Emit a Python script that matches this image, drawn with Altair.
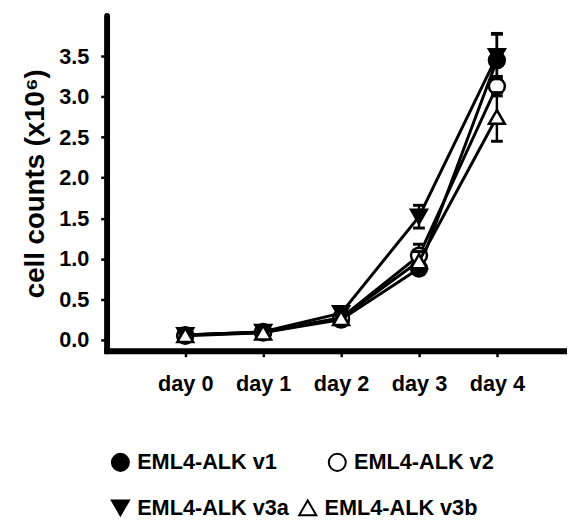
import altair as alt
import pandas as pd

days = [0, 1, 2, 3, 4]
day_labels = ["day 0", "day 1", "day 2", "day 3", "day 4"]
series_names = ["EML4-ALK v1", "EML4-ALK v2", "EML4-ALK v3a", "EML4-ALK v3b"]
v1_mean = [0.05, 0.09, 0.25, 0.88, 3.45]
v1_err = [0.02, 0.02, 0.03, 0.07, 0.32]
v2_mean = [0.06, 0.10, 0.27, 1.04, 3.13]
v2_err = [0.02, 0.02, 0.03, 0.14, 0.12]
v3a_mean = [0.06, 0.10, 0.33, 1.52, 3.50]
v3a_err = [0.02, 0.02, 0.04, 0.14, 0.28]
v3b_mean = [0.06, 0.09, 0.27, 0.97, 2.75]
v3b_err = [0.02, 0.02, 0.03, 0.12, 0.30]

means = [v1_mean, v2_mean, v3a_mean, v3b_mean]
errs = [v1_err, v2_err, v3a_err, v3b_err]
rows = []
for name, m, e in zip(series_names, means, errs):
    for d, lab, mv, ev in zip(days, day_labels, m, e):
        rows.append({"day": d, "label": lab, "series": name, "mean": mv,
                     "lo": mv - ev, "hi": mv + ev})
df = pd.DataFrame(rows)

FONT = "Liberation Sans"
xscale = alt.Scale(domain=[-1.01, 4.9], nice=False, zero=False)
yscale = alt.Scale(domain=[-0.134, 4.0], nice=False, zero=False)
xaxis = alt.Axis(values=days, labelExpr="'day ' + datum.value", title=None,
                 labelPadding=17, domainCap="square")
yaxis = alt.Axis(values=[0, 0.5, 1.0, 1.5, 2.0, 2.5, 3.0, 3.5], format=".1f",
                 title="cell counts (x10⁶)", titlePadding=9, labelPadding=12,
                 domainCap="round")


def group(names, shapes, fills, legend_y, col_pad):
    sub = df[df.series.isin(names)]
    base = alt.Chart(sub).encode(x=alt.X("day:Q", scale=xscale, axis=xaxis))
    line = base.mark_line(color="black", strokeWidth=3).encode(
        y=alt.Y("mean:Q", scale=yscale, axis=yaxis), detail="series:N")
    rule = base.mark_rule(color="black", strokeWidth=2.5).encode(
        y=alt.Y("lo:Q", scale=yscale, axis=yaxis), y2="hi:Q")
    cap_lo = base.mark_tick(color="black", orient="horizontal", size=12,
                            thickness=3, opacity=1).encode(
        y=alt.Y("lo:Q", scale=yscale, axis=yaxis))
    cap_hi = base.mark_tick(color="black", orient="horizontal", size=12,
                            thickness=3, opacity=1).encode(
        y=alt.Y("hi:Q", scale=yscale, axis=yaxis))
    leg = alt.Legend(title=None, orient="none", legendX=3, legendY=legend_y,
                     direction="horizontal", columnPadding=col_pad,
                     labelFont=FONT, labelFontSize=22, labelFontWeight="bold",
                     labelColor="black", labelLimit=400, labelOffset=6,
                     symbolSize=300, symbolStrokeColor="black",
                     symbolStrokeWidth=2, padding=0)
    pts = base.mark_point(filled=True, strokeWidth=2.5,
                          size=260, opacity=1).encode(
        y=alt.Y("mean:Q", scale=yscale, axis=yaxis),
        shape=alt.Shape("series:N", scale=alt.Scale(domain=names, range=shapes),
                        legend=leg),
        fill=alt.Fill("series:N", scale=alt.Scale(domain=names, range=fills),
                      legend=leg),
        stroke=alt.Stroke("series:N",
                          scale=alt.Scale(domain=names, range=["black", "black"]),
                          legend=leg),
    )
    return alt.layer(line, rule, cap_lo, cap_hi, pts)


g1 = group(series_names[:2], ["circle", "circle"], ["black", "white"], 442, 48)
g2 = group(series_names[2:], ["triangle-down", "triangle-up"], ["black", "white"], 488, 5)

chart = alt.layer(g1, g2).resolve_scale(
    shape="independent", fill="independent", stroke="independent"
).properties(
    width=467, height=340,
    autosize=alt.AutoSizeParams(type="none"),
    padding={"left": 100, "top": 4, "right": 0, "bottom": 172},
).configure_view(stroke=None).configure_axis(
    labelFont=FONT, labelFontSize=22, labelFontWeight="bold", labelColor="black",
    titleFont=FONT, titleFontSize=28, titleFontWeight="bold", titleColor="black",
    domainColor="black", domainWidth=6, tickColor="black", tickWidth=2.5,
    tickSize=6, grid=False,
)

chart.save("out.html", embed_options={"renderer": "svg", "actions": False})
